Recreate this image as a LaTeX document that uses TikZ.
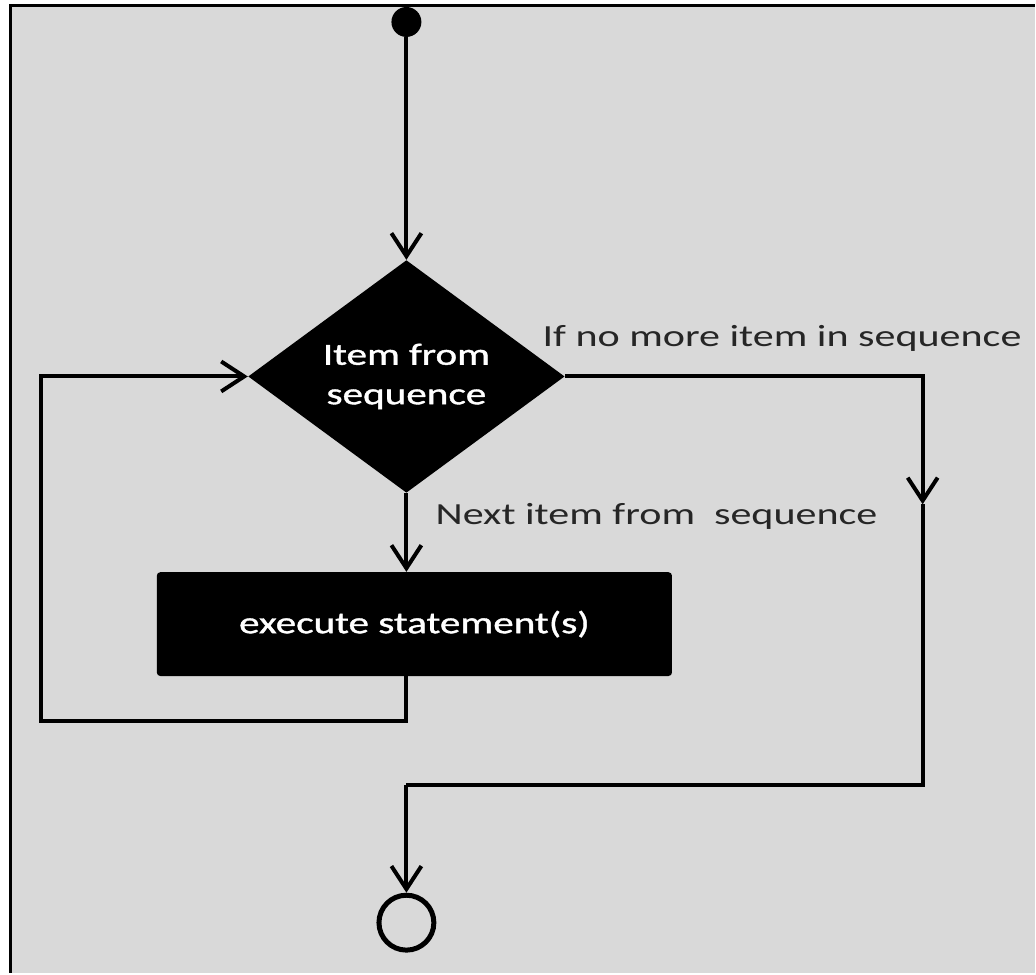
\documentclass[tikz,border=0pt]{standalone}
\usepackage{fontspec}
\setmainfont{Carlito}[FakeStretch=1.37]
\newfontfamily\boxfont{Carlito}[FakeStretch=1.34,FakeBold=1.2]
\usetikzlibrary{shapes.geometric,arrows.meta}
\definecolor{bggray}{HTML}{D9D9D9}
\tikzset{
  flow/.style={line width=0.08cm,-{Straight Barb[length=0.46cm,width=0.6cm]}},
  line/.style={line width=0.08cm},
  decision node/.style={diamond,fill=black,text=white,inner sep=0pt,minimum width=6.34cm,minimum height=4.6cm,align=center,font=\boxfont\fontsize{17.5}{22.5}\selectfont},
  action node/.style={rectangle,rounded corners=2pt,fill=black,text=white,minimum width=10.32cm,minimum height=2.08cm,font=\boxfont\fontsize{17.5}{21}\selectfont},
  label node/.style={anchor=base west,inner sep=0pt,text=black!85,font=\fontsize{17.5}{21}\selectfont}
}

\begin{document}
\begin{tikzpicture}[x=0.02cm,y=-0.02cm]
            % frame
            \fill[white] (0,0) rectangle (1036,974);
            \fill[bggray] (10.5,5.5) rectangle (1036,974);
            \draw[line width=0.06cm] (10.5,974) -- (10.5,5.5) -- (1036,5.5);

            \node[circle,fill=black,minimum size=0.6cm,inner sep=0pt] (start) at (407,22) {};
            \node[decision node] (item) at (407,377) {Item from\\sequence};
            \node[action node] (exec) at (415,625) {execute statement(s)};
            \node[circle,draw,line width=0.1cm,minimum size=1.1cm,inner sep=0pt] (stop) at (407,924) {};

            \node[label node] (nomore) at (543,347) {If no more item in sequence};
            \node[label node] (nextitem) at (436,525) {Next item from\ \ sequence};

            \coordinate (loopL) at (41,722);
            \coordinate (midR) at (924,505);
            \coordinate (exitL) at (407,786);

            \draw[flow] (start) -- (item.north);
            \draw[flow] (item.south) -- (item.south |- exec.north);
            \draw[flow] (exec.south -| item.south) |- (loopL) |- (item.west);
            \draw[flow] (item.east) -| (midR);
            \draw[line] (midR) |- (exitL);
            \draw[flow] (exitL) -- (stop.north);
        \end{tikzpicture}
\end{document}
